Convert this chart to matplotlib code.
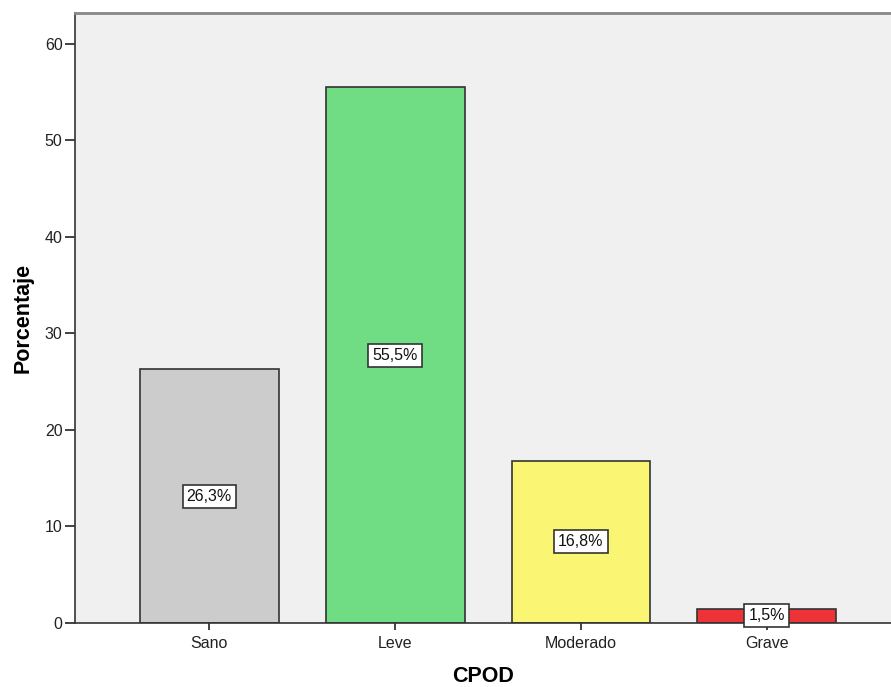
import matplotlib
matplotlib.use("Agg")
import matplotlib.pyplot as plt

categories = ["Sano", "Leve", "Moderado", "Grave"]
percentages = [26.3, 55.5, 16.8, 1.5]
bar_colors = ["#CCCCCC", "#70DC84", "#FAF674", "#EE3338"]
y_ticks = [0, 10, 20, 30, 40, 50, 60]

plt.rcParams["font.family"] = ["Liberation Sans", "DejaVu Sans"]

fig = plt.figure(figsize=(8.91, 6.87), dpi=100)
ax = fig.add_axes([75 / 891, 64 / 687, 1 - 75 / 891, (623 - 13) / 687])
ax.set_facecolor("#F0F0F0")

x = range(len(categories))
ax.bar(x, percentages, width=0.747, color=bar_colors, edgecolor="#333333",
       linewidth=1.2, zorder=2)

for xi, v in zip(x, percentages):
    ax.text(xi, v / 2, f"{v:.1f}%".replace(".", ","), ha="center", va="center",
            fontsize=11.5, color="#111111", zorder=4,
            bbox=dict(boxstyle="square,pad=0.25", facecolor="white",
                      edgecolor="#333333", linewidth=1.2))

ax.set_xlim(-0.723, 3.669)
ax.set_ylim(0, 63.2)
ax.set_xticks(list(x))
ax.set_xticklabels(categories, fontsize=11.5, color="#222222")
ax.set_yticks(y_ticks)
ax.set_yticklabels([str(t) for t in y_ticks], fontsize=11.5, color="#222222")
ax.tick_params(axis="y", length=7, width=1.2, color="#222222", pad=2)
ax.tick_params(axis="x", length=5, width=1.2, color="#222222", pad=4)

ax.spines["right"].set_visible(False)
ax.spines["top"].set_color("#888888")
ax.spines["top"].set_linewidth(2)
ax.spines["left"].set_color("#333333")
ax.spines["left"].set_linewidth(1.2)
ax.spines["bottom"].set_color("#333333")
ax.spines["bottom"].set_linewidth(1.2)

ax.set_ylabel("Porcentaje", fontsize=15.5, fontweight="bold", labelpad=8)
ax.set_xlabel("CPOD", fontsize=15.5, fontweight="bold", labelpad=11)

fig.savefig("out.png", dpi=100, facecolor="white")
